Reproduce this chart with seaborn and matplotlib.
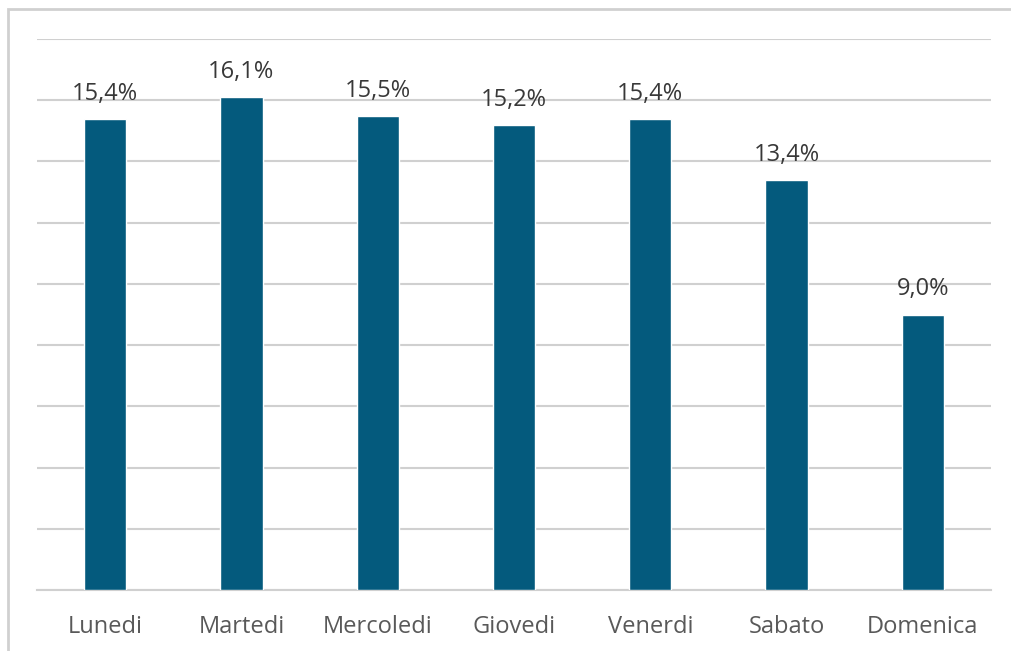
import matplotlib
matplotlib.use("Agg")
import matplotlib.pyplot as plt
import seaborn as sns
import pandas as pd
from matplotlib.patches import Rectangle

days = ["Lunedi", "Martedi", "Mercoledi", "Giovedi", "Venerdi", "Sabato", "Domenica"]
values = [15.4, 16.1, 15.5, 15.2, 15.4, 13.4, 9.0]
labels = ["15,4%", "16,1%", "15,5%", "15,2%", "15,4%", "13,4%", "9,0%"]

sns.set_theme(style="white")
plt.rcParams['font.family'] = ['Open Sans', 'DejaVu Sans']

df = pd.DataFrame({"day": days, "value": values})

fig = plt.figure(figsize=(10.12, 6.51), dpi=100)
ax = fig.add_axes([37/1012, 1-590/651, (991-37)/1012, (590-39)/651])

sns.barplot(data=df, x="day", y="value", color="#045a7d", saturation=1,
            width=0.31, ax=ax, zorder=3)

ax.set_ylim(0, 18)
ax.set_yticks(range(0, 19, 2))
ax.yaxis.grid(True, color="#d0d0d0", linewidth=1.5, zorder=0)
ax.set_axisbelow(True)
ax.set_yticklabels([])
ax.tick_params(axis='y', length=0)
ax.tick_params(axis='x', length=0, pad=18, labelsize=17, labelcolor="#595959")
ax.set_xlabel("")
ax.set_ylabel("")
for s in ["top", "right", "left"]:
    ax.spines[s].set_visible(False)
ax.spines["bottom"].set_color("#d0d0d0")
ax.spines["bottom"].set_linewidth(1.5)
ax.set_xlim(-0.5, 6.5)

for i, (v, lab) in enumerate(zip(values, labels)):
    ax.annotate(lab, (i, v), xytext=(0, 13.7), textcoords="offset points",
                ha="center", va="baseline", fontsize=17, color="#383838")

fig.patches.append(Rectangle((8/1012, -0.1), 1.2, 0.1 + 1 - 9/651,
                             transform=fig.transFigure, fill=False,
                             edgecolor="#d0d0d0", linewidth=2))

fig.savefig("out.png", dpi=100)
